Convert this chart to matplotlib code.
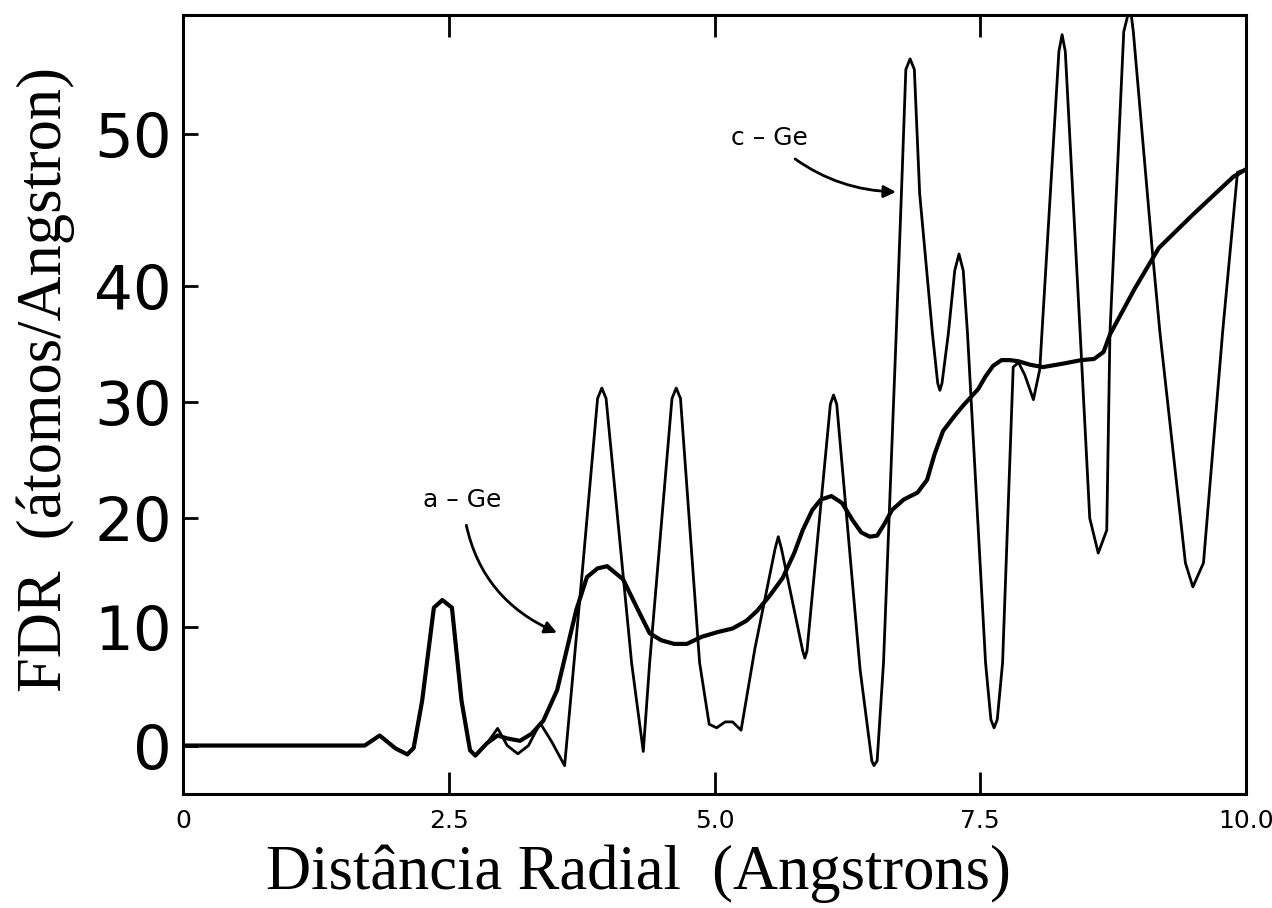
import numpy as np
import matplotlib.pyplot as plt
from matplotlib.ticker import NullLocator

# c-Ge (crystalline) radial distribution
r_c = [0.0, 1.71, 1.85, 2.0, 2.11, 2.17, 2.25, 2.36, 2.44, 2.53, 2.62, 2.7, 2.75,
       2.86, 2.96, 3.05, 3.15, 3.25, 3.36, 3.47, 3.59, 3.76, 3.9, 3.94, 3.98,
       4.22, 4.33, 4.39, 4.6, 4.64, 4.68, 4.86, 4.95, 5.02, 5.1, 5.17, 5.25,
       5.38, 5.57, 5.6, 5.63, 5.83, 5.85, 5.87, 6.09, 6.12, 6.15, 6.37, 6.48,
       6.5, 6.53, 6.59, 6.71, 6.76, 6.8, 6.84, 6.88, 6.93, 7.05, 7.1, 7.12,
       7.14, 7.2, 7.26, 7.3, 7.34, 7.38, 7.55, 7.6, 7.63, 7.66, 7.71, 7.81,
       7.86, 7.92, 8.0, 8.06, 8.08, 8.24, 8.27, 8.3, 8.44, 8.53, 8.61, 8.69,
       8.72, 8.85, 8.91, 8.94, 9.12, 9.19, 9.43, 9.5, 9.6, 9.78, 9.92, 10.0]
fdr_c = [0.0, 0.0, 0.85, -0.25, -0.75, -0.2, 3.8, 11.8, 12.5, 11.8, 3.8, -0.4, -0.85,
         0.2, 1.45, 0.0, -0.7, 0.0, 1.9, 0.3, -1.7, 15.5, 30.3, 31.2, 30.3,
         7.0, -0.5, 7.0, 30.3, 31.2, 30.3, 7.0, 1.8, 1.5, 2.0, 2.0, 1.3,
         8.2, 17.2, 18.3, 17.2, 8.0, 7.4, 8.0, 29.8, 30.6, 29.8, 6.4, -1.3,
         -1.7, -1.3, 7.0, 36.0, 46.4, 54.3, 55.0, 54.3, 46.1, 35.9, 31.6, 31.0,
         31.6, 35.9, 41.0, 42.1, 41.0, 35.9, 7.0, 2.2, 1.5, 2.2, 7.0, 33.0,
         33.4, 32.3, 30.2, 32.8, 35.9, 55.5, 56.6, 55.5, 35.9, 20.0, 16.8, 18.9,
         35.9, 56.8, 58.5, 56.8, 42.2, 36.0, 15.9, 13.7, 15.9, 36.0, 47.5, 47.7]

# a-Ge (amorphous) radial distribution
r_a = [0.0, 1.71, 1.85, 2.0, 2.11, 2.17, 2.25, 2.36, 2.44, 2.53, 2.62, 2.7, 2.75,
       2.86, 2.96, 3.05, 3.17, 3.28, 3.39, 3.52, 3.61, 3.7, 3.8, 3.9, 3.99,
       4.14, 4.27, 4.39, 4.5, 4.62, 4.74, 4.88, 5.03, 5.17, 5.3, 5.4, 5.52,
       5.64, 5.75, 5.83, 5.92, 6.0, 6.1, 6.2, 6.3, 6.38, 6.46, 6.53, 6.6,
       6.67, 6.78, 6.91, 7.0, 7.07, 7.15, 7.25, 7.34, 7.48, 7.55, 7.62, 7.7,
       7.78, 7.86, 7.97, 8.09, 8.28, 8.45, 8.57, 8.66, 8.72, 8.95, 9.18, 9.5,
       9.88, 10.0]
fdr_a = [0.0, 0.0, 0.85, -0.25, -0.75, -0.2, 3.8, 11.8, 12.5, 11.8, 3.8, -0.4, -0.85,
         0.2, 0.85, 0.6, 0.4, 1.0, 2.1, 4.7, 8.1, 11.6, 14.6, 15.4, 15.6,
         14.4, 11.8, 9.5, 8.9, 8.6, 8.6, 9.2, 9.6, 9.9, 10.6, 11.5, 12.9,
         14.5, 16.8, 18.9, 20.7, 21.6, 21.9, 21.3, 19.8, 18.7, 18.3, 18.4, 19.5,
         20.7, 21.6, 22.2, 23.3, 25.5, 27.5, 28.7, 29.7, 31.1, 32.2, 33.1, 33.6,
         33.6, 33.5, 33.2, 33.0, 33.3, 33.6, 33.7, 34.3, 35.8, 39.7, 42.5, 44.7,
         47.2, 47.7]

xticks = [0, 2.5, 5.0, 7.5, 10.0]
xticklabels = ['0', '2.5', '5.0', '7.5', '10.0']
yticks = [0, 10, 20, 30, 40, 50]

# the printed y axis is not evenly spaced, so use a piecewise scale
y_knots = [0, 10, 20, 30, 40, 50]
y_marks = [0, 118, 227, 343, 459, 610]


def fwd(v):
    v = np.asarray(v, dtype=float)
    out = np.interp(v, y_knots, y_marks)
    out = np.where(v < 0, v * 11.8, out)
    out = np.where(v > 50, 610 + (v - 50) * 15.1, out)
    return out


def inv(p):
    p = np.asarray(p, dtype=float)
    out = np.interp(p, y_marks, y_knots)
    out = np.where(p < 0, p / 11.8, out)
    out = np.where(p > 610, 50 + (p - 610) / 15.1, out)
    return out


fig = plt.figure(figsize=(12.72, 9.08), dpi=100)
ax = fig.add_axes([183 / 1272, 1 - 794 / 908, (1246 - 183) / 1272, (794 - 15) / 908])
ax.set_yscale('function', functions=(fwd, inv))

ax.plot(r_c, fdr_c, color='black', lw=2.0, solid_joinstyle='round')
ax.plot(r_a, fdr_a, color='black', lw=3.0, solid_joinstyle='round')

ax.set_xlim(0, 10)
ax.set_ylim(-4.1, 57.9)

ax.set_xticks(xticks, xticklabels, fontsize=18, family='DejaVu Sans')
ax.set_yticks(yticks, [str(v) for v in yticks], fontsize=44, family='DejaVu Sans')
ax.xaxis.set_minor_locator(NullLocator())
ax.yaxis.set_minor_locator(NullLocator())
ax.tick_params(axis='x', direction='in', length=16, width=2, top=True, pad=11)
ax.tick_params(axis='y', direction='in', length=11, width=2, right=False, pad=8)
for s in ax.spines.values():
    s.set_linewidth(2.2)

ax.annotate('c – Ge', xy=(6.72, 46.2), xytext=(5.52, 49.8), ha='center', va='center',
            fontsize=18,
            arrowprops=dict(arrowstyle='-|>', color='black', lw=2, mutation_scale=18,
                            connectionstyle='arc3,rad=0.2', shrinkA=8, shrinkB=1))
ax.annotate('a – Ge', xy=(3.53, 9.5), xytext=(2.63, 21.6), ha='center', va='center',
            fontsize=18,
            arrowprops=dict(arrowstyle='-|>', color='black', lw=2, mutation_scale=18,
                            connectionstyle='arc3,rad=0.3', shrinkA=8, shrinkB=1))

fig.text(0.502, 1 - 874 / 908, 'Distância Radial  (Angstrons)', ha='center', va='center',
         fontsize=45, family='Liberation Serif')
fig.text(0.036, 1 - 380 / 908, 'FDR  (átomos/Angstron)', ha='center', va='center',
         rotation=90, fontsize=45, family='Liberation Serif')

fig.savefig('out.png', dpi=100)
